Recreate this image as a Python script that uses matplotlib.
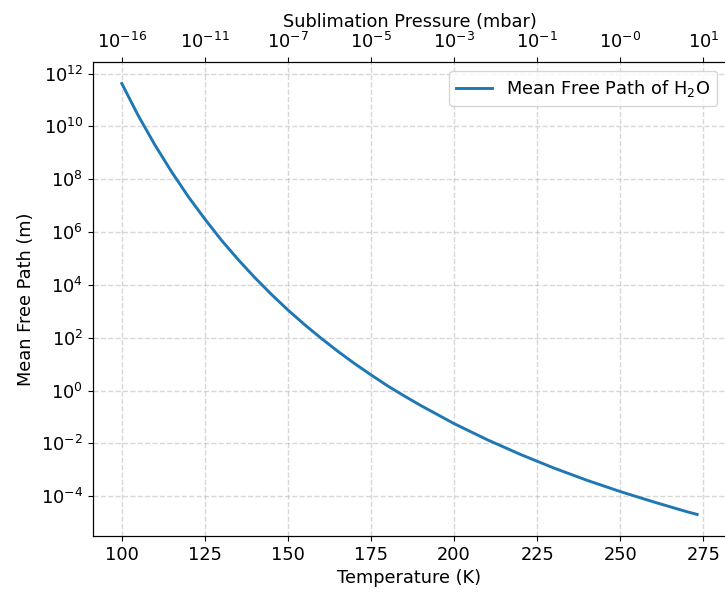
import matplotlib
matplotlib.use('Agg')

import matplotlib.pyplot as plt

# temperature (K) and mean free path of H2O vapour (m)
temperature = [100, 105, 110, 115, 120, 125, 130, 135, 140, 145, 150, 155,
               160, 165, 170, 175, 180, 185, 190, 200, 210, 220, 230, 240,
               250, 260, 270, 273.15]
mean_free_path = [4.2e11, 2.5e10, 1.95e9, 1.9e8, 2.2e7, 3.1e6, 4.9e5, 9.1e4, 1.9e4, 4.4e3, 1.12e3, 313,
                  95, 30.7, 10.6, 3.92, 1.5, 0.625, 0.27, 0.056, 0.0137, 0.0038, 1.17e-3, 4.0e-4,
                  1.5e-4, 6.1e-5, 2.6e-5, 2.04e-5]

# top axis: sublimation pressure at the bottom tick temperatures
pressure_ticks = [100, 125, 150, 175, 200, 225, 250, 275]
pressure_labels = ['$10^{-16}$', '$10^{-11}$', '$10^{-7}$', '$10^{-5}$',
                   '$10^{-3}$', '$10^{-1}$', '$10^{-0}$', '$10^{1}$']

plt.rcParams['font.size'] = 12.75

fig = plt.figure(figsize=(7.25, 5.97), dpi=100)
ax = fig.add_axes([0.1283, 0.1022, 0.873, 0.794])
ax.plot(temperature, mean_free_path, color='#1f77b4', lw=2.1, label='Mean Free Path of H$_2$O')
ax.set_yscale('log')
ax.set_xlabel('Temperature (K)')
ax.set_ylabel('Mean Free Path (m)')
ax.set_xticks(pressure_ticks)
ax.grid(True, which='major', linestyle='--', color='#b0b0b0', alpha=0.5, lw=1.0)
ax.legend(loc='upper right')
ax.yaxis.set_minor_locator(matplotlib.ticker.NullLocator())

top = ax.twiny()
top.set_xlim(ax.get_xlim())
top.set_xticks(pressure_ticks)
top.set_xticklabels(pressure_labels)
top.set_xlabel('Sublimation Pressure (mbar)')

fig.savefig('out.png', dpi=100)
